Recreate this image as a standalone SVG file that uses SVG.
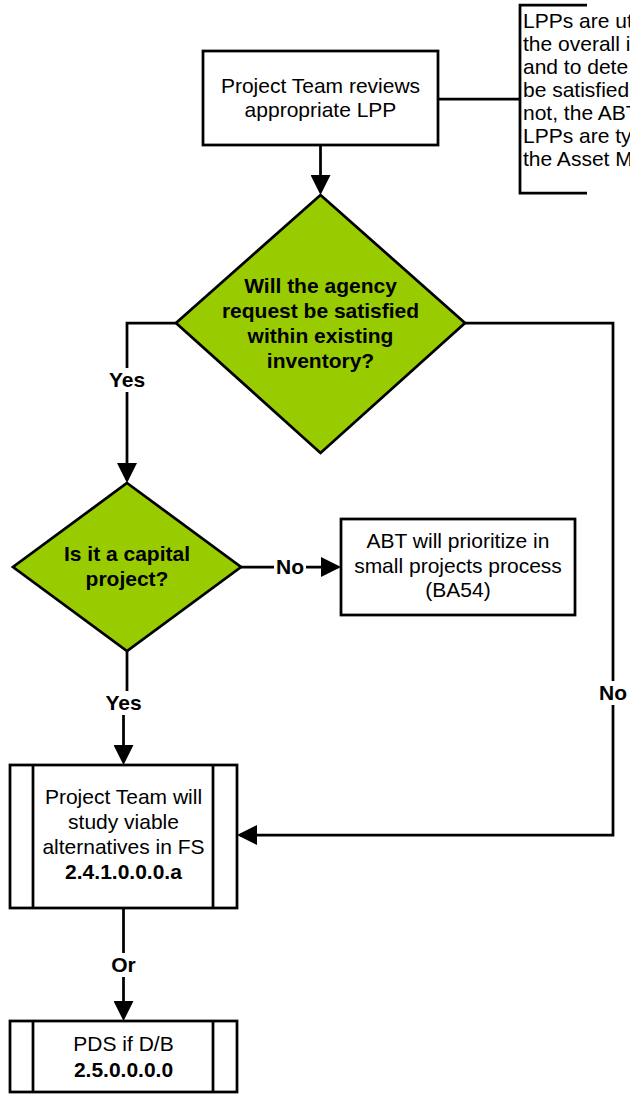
<svg xmlns="http://www.w3.org/2000/svg" width="630" height="1097" viewBox="0 0 630 1097">
<style>
.box{fill:#fff;stroke:#000;stroke-width:2.75}
.dia{fill:#99CC00;stroke:#000;stroke-width:2.75}
.ln{fill:none;stroke:#000;stroke-width:2.75}
.t{font-family:"Liberation Sans",Arial,sans-serif;font-size:21px;fill:#000;text-anchor:middle}
.b{font-weight:bold}
.a{font-family:"Liberation Sans",Arial,sans-serif;font-size:21px;fill:#000}
.lb{fill:#fff}
</style>
<defs>
<marker id="arr" markerUnits="userSpaceOnUse" markerWidth="20" markerHeight="20" refX="17" refY="10" orient="auto">
<path d="M0,0 L20,10 L0,20 z" fill="#000"/>
</marker>
</defs>
<rect width="630" height="1097" fill="#fff"/>
<g id="connectors">
<path class="ln" d="M320.5 145 V192" marker-end="url(#arr)"/>
<path class="ln" d="M438 99 H520"/>
<path class="ln" d="M176 323 H127 V480" marker-end="url(#arr)"/>
<path class="ln" d="M241 567 H338" marker-end="url(#arr)"/>
<path class="ln" d="M127 651 V703 H123.5 V762" marker-end="url(#arr)"/>
<path class="ln" d="M465 323 H613 V835 H240" marker-end="url(#arr)"/>
<path class="ln" d="M123.5 908 V1018" marker-end="url(#arr)"/>
<rect class="lb" x="109" y="368" width="36" height="24"/>
<text class="t b" x="127" y="387">Yes</text>
<rect class="lb" x="274" y="556" width="32" height="22"/>
<text class="t b" x="290" y="574">No</text>
<rect class="lb" x="105" y="691" width="37" height="24"/>
<text class="t b" x="123.5" y="710">Yes</text>
<rect class="lb" x="597" y="681" width="32" height="24"/>
<text class="t b" x="613" y="700">No</text>
<rect class="lb" x="109" y="953" width="29" height="24"/>
<text class="t b" x="123.5" y="972">Or</text>
</g>
<g id="n-review">
<rect class="box" x="203" y="51" width="235" height="94"/>
<text class="t" x="320.5" y="93">Project Team reviews</text>
<text class="t" x="320.5" y="117">appropriate LPP</text>
</g>
<g id="n-note">
<path class="ln" d="M587 5 H520 V193 H587"/>
<text class="a" x="523" y="28">LPPs are ut</text>
<text class="a" x="523" y="51">the overall i</text>
<text class="a" x="523" y="74">and to dete</text>
<text class="a" x="523" y="97">be satisfied</text>
<text class="a" x="523" y="120">not, the ABT</text>
<text class="a" x="523" y="143">LPPs are ty</text>
<text class="a" x="523" y="166">the Asset M</text>
</g>
<g id="n-inventory">
<path class="dia" d="M320.5 195 L465 323 L320.5 453 L176 323 Z"/>
<text class="t b" x="320.5" y="293">Will the agency</text>
<text class="t b" x="320.5" y="318">request be satisfied</text>
<text class="t b" x="320.5" y="343">within existing</text>
<text class="t b" x="320.5" y="368">inventory?</text>
</g>
<g id="n-capital">
<path class="dia" d="M127 483 L241 567 L127 651 L13 567 Z"/>
<text class="t b" x="127" y="561">Is it a capital</text>
<text class="t b" x="127" y="586">project?</text>
</g>
<g id="n-abt">
<rect class="box" x="341" y="519" width="234" height="96"/>
<text class="t" x="458" y="548">ABT will prioritize in</text>
<text class="t" x="458" y="573">small projects process</text>
<text class="t" x="458" y="597">(BA54)</text>
</g>
<g id="n-study">
<rect class="box" x="10" y="765" width="227" height="143"/>
<path class="ln" d="M33 765 V908 M213 765 V908"/>
<text class="t" x="123.5" y="804">Project Team will</text>
<text class="t" x="123.5" y="829">study viable</text>
<text class="t" x="123.5" y="854">alternatives in FS</text>
<text class="t b" x="123.5" y="879">2.4.1.0.0.0.a</text>
</g>
<g id="n-pds">
<rect class="box" x="10" y="1021" width="227" height="71"/>
<path class="ln" d="M33 1021 V1092 M213 1021 V1092"/>
<text class="t" x="123.5" y="1051">PDS if D/B</text>
<text class="t b" x="123.5" y="1077">2.5.0.0.0.0</text>
</g>
</svg>
